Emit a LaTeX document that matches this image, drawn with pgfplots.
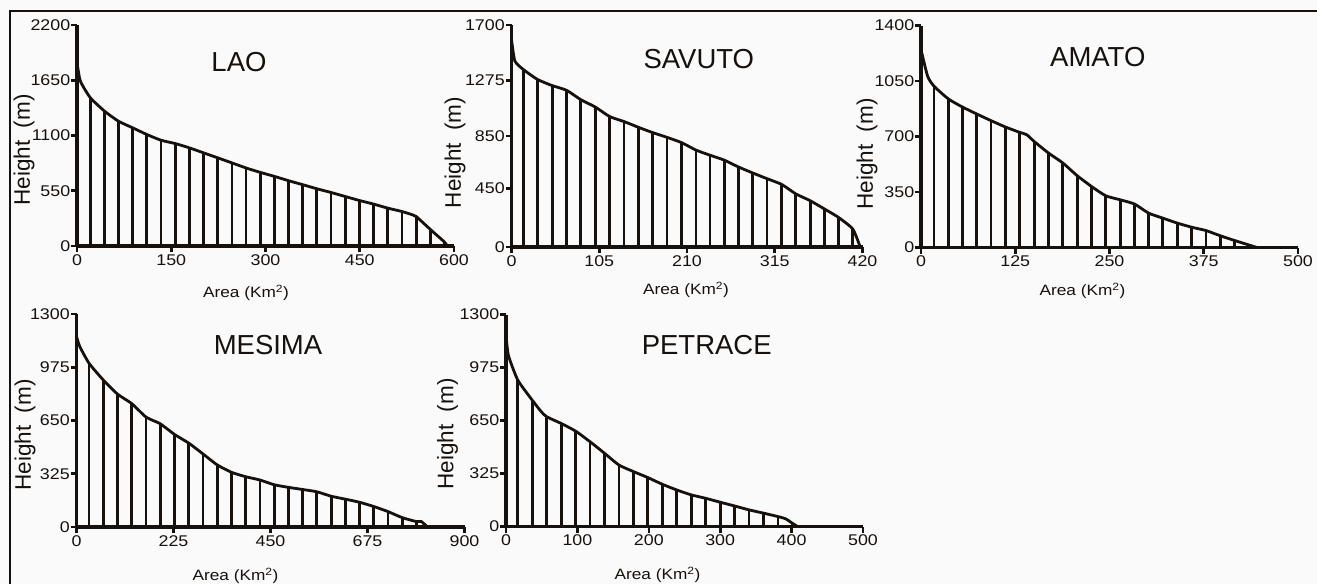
\documentclass[border=0pt]{standalone}
\usepackage{fontspec}
\setmainfont{Liberation Sans}
\newfontfamily\widefont{Liberation Sans}[FakeStretch=1.15]
\usepackage{pgfplots}
\usepackage{pgfplotstable}
\pgfplotsset{compat=1.18}

\definecolor{bg}{RGB}{250,250,250}
\definecolor{ink}{RGB}{22,17,13}

% hypsometric curves: x = area (km2), h = height (m), c = 1 where a hatch line is drawn
\pgfplotstableread{
x h c
0 1830 0
5.3 1643 0
21.1 1477 1
43.7 1343 1
65.8 1243 1
88.4 1177 1
111.1 1110 1
133.7 1053 1
156.3 1020 1
178.9 977 1
201.6 927 1
224.2 877 1
246.8 827 1
268.9 777 1
291.6 733 1
314.2 693 1
336.8 650 1
359.5 610 1
381.6 570 1
404.2 533 1
426.8 493 1
449.5 453 1
472.1 417 1
494.7 377 1
517.4 343 1
534.2 310 0
540.0 293 1
563.2 160 1
584.2 43 1
589.5 0 0
}\lao

\pgfplotstableread{
x h c
0 1590 0
4.0 1425 0
14.0 1360 1
31.1 1283 1
48.7 1236 1
65.9 1200 1
83.0 1128 1
100.2 1072 1
117.4 999 1
134.5 961 1
151.7 917 1
168.9 876 1
186.0 840 1
203.6 799 1
220.8 742 1
237.5 703 1
254.7 665 1
271.5 613 1
288.6 567 1
305.8 523 1
323.4 479 1
340.1 407 1
357.3 355 1
374.5 291 1
391.2 227 1
408.4 137 1
417.2 0 0
}\savuto

\pgfplotstableread{
x h c
0 1248 0
8.8 1080 0
17.3 1017 1
36.3 937 1
54.9 886 1
73.9 842 1
92.9 800 1
111.9 760 1
131.0 726 1
140.3 711 0
150.0 669 1
169.0 596 1
188.1 533 1
207.1 453 1
226.1 385 1
245.1 326 1
264.2 301 1
283.2 274 1
301.8 217 1
320.8 185 1
339.8 154 1
358.9 128 1
377.9 107 1
396.9 74 1
416.0 44 1
445.6 0 0
}\amato

\pgfplotstableread{
x h c
0 1163 0
7.7 1101 0
29.2 999 1
62.2 897 1
95.2 811 1
128.3 753 1
161.3 671 1
194.3 630 1
227.3 565 1
260.4 512 1
293.4 446 1
326.4 379 1
359.4 334 1
392.4 307 1
425.5 287 1
458.5 258 1
491.5 242 1
524.5 229 1
557.6 215 1
590.6 188 1
623.6 170 1
656.6 151 1
689.7 125 1
722.7 94 1
755.7 57 1
788.7 33 1
800.0 33 0
814.0 0 0
}\mesima

\pgfplotstableread{
x h c
0 1183 0
3.3 1051 0
16.5 898 1
36.7 775 1
49.4 704 0
57.0 673 1
77.2 632 1
97.5 585 1
117.7 520 1
138.0 449 1
158.2 377 1
178.4 337 1
198.7 300 1
218.9 259 1
239.2 224 1
259.4 194 1
279.7 173 1
299.9 149 1
320.1 126 1
340.4 102 1
360.6 82 1
380.9 61 1
391.7 47 0
401.1 20 1
408.2 0 0
}\petrace

\pgfplotsset{
  hyp/.style={
    scale only axis, anchor=south west,
    axis lines=left, axis line style={-, ink, line width=3.4pt},
    xmin=0, ymin=0,
    tick align=outside, major tick length=6pt,
    major tick style={ink, line width=2.6pt},
    tick label style={font=\widefont\fontsize{15.5}{16}\selectfont, text=ink},
    yticklabel style={inner xsep=0.6pt},
    xticklabel style={inner ysep=2pt},
    /pgf/number format/assume math mode=true,
    /pgf/number format/1000 sep={},
    clip=false,
  },
  curve/.style={ink, line width=2.8pt, smooth, tension=0.35, no marks},
  hatch/.style={ink, line width=2.8pt, ycomb, no marks,
    restrict expr to domain={\thisrow{c}}{0.5:1.5}},
}

\begin{document}
\begin{tikzpicture}[x=1pt, y=1pt]
\useasboundingbox (0,0) rectangle (1317,-584);
\fill[bg] (0,0) rectangle (1317,-584);
\draw[ink, line width=2pt] (9.5,-584) -- (9.5,-11) -- (1317,-11);

% LAO
\begin{axis}[hyp, at={(77pt,-246pt)}, width=377pt, height=221pt,
    xmax=600, ymax=2200, xtick={0,150,300,450,600}, ytick={0,550,1100,1650,2200}]
\addplot[curve] table[x=x, y=h] {\lao};
\addplot[hatch] table[x=x, y=h] {\lao};
\end{axis}

% SAVUTO
\begin{axis}[hyp, at={(511.5pt,-247pt)}, width=351pt, height=222pt,
    xmax=420, ymax=1700, xtick={0,105,210,315,420}, ytick={0,450,850,1275,1700}]
\addplot[curve] table[x=x, y=h] {\savuto};
\addplot[hatch] table[x=x, y=h] {\savuto};
\end{axis}

% AMATO
\begin{axis}[hyp, at={(921pt,-247.5pt)}, width=377pt, height=222pt,
    xmax=500, ymax=1400, xtick={0,125,250,375,500}, ytick={0,350,700,1050,1400}]
\addplot[curve] table[x=x, y=h] {\amato};
\addplot[hatch] table[x=x, y=h] {\amato};
\end{axis}

% MESIMA
\begin{axis}[hyp, at={(76.5pt,-527pt)}, width=388pt, height=213pt,
    xmax=900, ymax=1300, xtick={0,225,450,675,900}, ytick={0,325,650,975,1300}]
\addplot[curve] table[x=x, y=h] {\mesima};
\addplot[hatch] table[x=x, y=h] {\mesima};
\end{axis}

% PETRACE
\begin{axis}[hyp, at={(506pt,-526.5pt)}, width=357pt, height=212pt,
    xmax=500, ymax=1300, xtick={0,100,200,300,400,500}, ytick={0,325,650,975,1300}]
\addplot[curve] table[x=x, y=h] {\petrace};
\addplot[hatch] table[x=x, y=h] {\petrace};
\end{axis}

% titles
\begin{scope}[every node/.style={text=ink, inner sep=0pt, font=\fontsize{27.5}{30}\selectfont}]
\node at (239,-61.7) {LAO};
\node at (698.8,-59.2) {SAVUTO};
\node at (1097.8,-57.3) {AMATO};
\node at (268,-344.7) {MESIMA};
\node at (706.7,-345) {PETRACE};
\end{scope}

% y labels
\begin{scope}[every node/.style={text=ink, inner sep=0pt, rotate=90, font=\fontsize{22.5}{24}\selectfont}]
\node at (24,-150) {Height\ \ (m)};
\node at (455,-152.5) {Height\ \ (m)};
\node at (867,-154) {Height\ \ (m)};
\node at (25,-435) {Height\ \ (m)};
\node at (447.5,-434) {Height\ \ (m)};
\end{scope}

% x labels
\begin{scope}[every node/.style={text=ink, inner sep=0pt, font=\widefont\fontsize{15}{16}\selectfont}]
\node at (246,-293) {Area (Km\textsuperscript{2})};
\node at (686,-290) {Area (Km\textsuperscript{2})};
\node at (1082.5,-291) {Area (Km\textsuperscript{2})};
\node at (235.5,-575.7) {Area (Km\textsuperscript{2})};
\node at (657.5,-575) {Area (Km\textsuperscript{2})};
\end{scope}
\end{tikzpicture}
\end{document}
